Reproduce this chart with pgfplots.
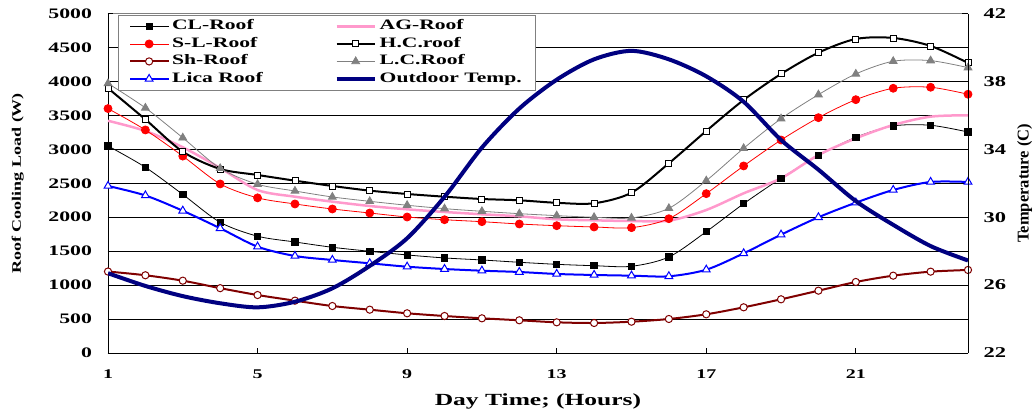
\documentclass[border=0pt]{standalone}
\usepackage{fontspec}
\setmainfont{Liberation Serif}[FakeStretch=1.5]
\newfontfamily\plainserif{Liberation Serif}
\usepackage{pgfplots}
\pgfplotsset{compat=1.18}
\usepackage{pgfplotstable}
\definecolor{agpink}{RGB}{255,153,204}
\definecolor{shred}{RGB}{128,0,0}
\definecolor{lcgray}{RGB}{128,128,128}
\definecolor{navyT}{RGB}{0,0,128}
\pgfplotsset{myleg/.style={legend image code/.code={\draw[mark repeat=2,mark phase=2,##1] plot coordinates {(0pt,0pt) (19pt,0pt) (38pt,0pt)};}}}

\pgfplotstableread{
h CL AG SL HC Sh LC Lica T
1 3050 3420 3600 3900 1200 3970 2460 26.70
2 2735 3270 3285 3440 1145 3610 2320 25.95
3 2335 3030 2900 2965 1065 3170 2095 25.35
4 1925 2725 2490 2710 955 2720 1837 24.93
5 1720 2400 2285 2622 854 2485 1566 24.69
6 1635 2302 2195 2538 771 2386 1429 25.02
7 1557 2229 2121 2460 692 2298 1370 25.81
8 1498 2165 2062 2391 638 2234 1321 27.13
9 1444 2116 2003 2342 585 2176 1271 28.76
10 1400 2077 1963 2302 545 2126 1237 31.20
11 1370 2043 1934 2268 511 2087 1212 34.10
12 1336 2013 1900 2249 482 2052 1193 36.40
13 1306 1969 1875 2212 452 2023 1164 38.10
14 1286 1954 1856 2205 442 1999 1149 39.30
15 1277 1944 1846 2361 461 1989 1139 39.80
16 1414 1949 1978 2794 501 2131 1130 39.30
17 1787 2106 2347 3270 570 2538 1227 38.30
18 2199 2352 2755 3727 673 3015 1468 36.80
19 2573 2573 3137 4110 791 3451 1743 34.55
20 2906 2916 3466 4423 918 3805 1999 32.80
21 3177 3162 3731 4625 1046 4110 2214 30.95
22 3344 3358 3899 4640 1139 4297 2401 29.55
23 3354 3481 3914 4522 1198 4306 2519 28.30
24 3255 3501 3811 4272 1223 4203 2519 27.45
}\data

\begin{document}
\begin{tikzpicture}
\useasboundingbox (-108pt,-63pt) rectangle (928pt,353pt);
\begin{axis}[
  scale only axis, width=860pt, height=339.5pt,
  xmin=1, xmax=24, ymin=0, ymax=5000,
  axis x line*=bottom, axis y line*=left,
  axis line style={black, line width=0.8pt},
  xtick={1,5,9,13,17,21}, ytick={0,500,...,4500},
  extra y ticks={5000},
  extra y tick style={grid style={lcgray, line width=0.7pt}},
  ymajorgrids, grid style={black, line width=0.7pt},
  tick align=inside, major tick length=5pt,
  tick style={black, line width=0.8pt},
  /pgf/number format/assume math mode=true,
  /pgf/number format/set thousands separator={},
  yticklabel style={font=\bfseries\fontsize{14.5}{14.5}\selectfont, xshift=-12.5pt},
  xticklabel style={font=\bfseries\fontsize{13.3}{13.3}\selectfont, yshift=-13pt},
  xlabel={Day Time; (Hours)},
  xlabel style={font=\bfseries\fontsize{17}{17}\selectfont, at={(axis description cs:0.5,-0.144)}, anchor=center},
  ylabel={\scalebox{1}[0.72]{Roof Cooling Load (W)}},
  ylabel style={font=\plainserif\bfseries\fontsize{18}{18}\selectfont, at={(axis description cs:-0.105,0.5)}, anchor=center},
  legend columns=2,
  legend cell align=left,
  legend style={at={(axis description cs:0.0113,0.997)}, anchor=north west,
    draw=lcgray, line width=0.8pt, fill=white,
    font=\bfseries\fontsize{14.4}{14.4}\selectfont,
    inner xsep=11pt, inner ysep=3.5pt, row sep=1.5pt,
    nodes={text height=9.5pt, text depth=2.5pt, inner ysep=2pt, inner xsep=3pt},
    /tikz/every even column/.append style={column sep=69pt}},
]
\addplot[myleg, black, line width=0.8pt, smooth, mark=square*, mark size=3.2pt, mark options={solid, fill=black}] table[x=h,y=CL]{\data};
\addlegendentry{CL-Roof}
\addplot[myleg, agpink, line width=2.5pt, smooth, no markers] table[x=h,y=AG]{\data};
\addlegendentry{AG-Roof}
\addplot[myleg, red, line width=0.8pt, smooth, mark=*, mark size=4pt, mark options={solid, fill=red}] table[x=h,y=SL]{\data};
\addlegendentry{S-L-Roof}
\addplot[myleg, black, line width=2pt, smooth, mark=square*, mark size=3pt, mark options={solid, fill=white, line width=0.9pt}] table[x=h,y=HC]{\data};
\addlegendentry{H.C.roof}
\addplot[myleg, shred, line width=2pt, smooth, mark=*, mark size=3.6pt, mark options={solid, fill=white, line width=1pt}] table[x=h,y=Sh]{\data};
\addlegendentry{Sh-Roof}
\addplot[myleg, lcgray, line width=0.8pt, smooth, mark=triangle*, mark size=4.5pt, mark options={solid, fill=lcgray}] table[x=h,y=LC]{\data};
\addlegendentry{L.C.Roof}
\addplot[myleg, blue, line width=2pt, smooth, mark=triangle*, mark size=4.5pt, mark options={solid, fill=white, line width=1pt}] table[x=h,y=Lica]{\data};
\addlegendentry{Lica Roof}
\addlegendimage{myleg, navyT, line width=4pt}
\addlegendentry{Outdoor Temp.}
\end{axis}
\begin{axis}[
  scale only axis, width=860pt, height=339.5pt,
  xmin=1, xmax=24, ymin=22, ymax=42,
  axis x line=none, axis y line*=right,
  axis line style={black, line width=0.8pt},
  ytick={22,26,...,42},
  tick align=inside, major tick length=6pt,
  tick style={black, line width=0.8pt},
  /pgf/number format/assume math mode=true,
  yticklabel style={font=\bfseries\fontsize{15}{15}\selectfont, xshift=12pt},
  ylabel={Temperature (C)},
  ylabel style={font=\plainserif\bfseries\fontsize{16.5}{16.5}\selectfont, at={(axis description cs:1.066,0.5)}, anchor=center},
]
\addplot[navyT, line width=4pt, smooth] table[x=h,y=T]{\data};
\end{axis}
\end{tikzpicture}
\end{document}
